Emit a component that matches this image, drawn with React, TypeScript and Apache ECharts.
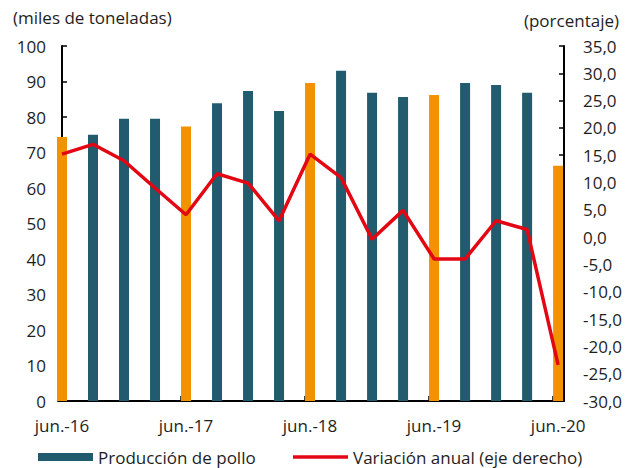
import React, { useEffect, useRef } from "react";
import * as echarts from "echarts";

const quarters = [
  "jun.-16", "sep.-16", "dic.-16", "mar.-17",
  "jun.-17", "sep.-17", "dic.-17", "mar.-18",
  "jun.-18", "sep.-18", "dic.-18", "mar.-19",
  "jun.-19", "sep.-19", "dic.-19", "mar.-20",
  "jun.-20",
];
const produccion = [74.4, 75.0, 79.5, 79.5, 77.3, 83.9, 87.3, 81.7, 89.6, 93.0, 86.8, 85.6, 86.2, 89.6, 89.0, 86.8, 66.3];
const variacion = [15.2, 17.0, 14.0, 9.0, 4.1, 11.6, 9.9, 3.0, 15.2, 10.9, -0.4, 4.9, -4.0, -4.0, 3.0, 1.4, -23.4];
const labelIdx = [0, 4, 8, 12, 16];
const tickPos = [3.84, 7.84, 11.84, 15.84];
const seriesNames = ["Producción de pollo", "Variación anual (eje derecho)"];

const FONT = "Open Sans";
const FS = 17;
const TXT = "#1e1e1e";
const TEAL = "#235B6E";
const ORANGE = "#F39200";
const RED = "#E30613";

export default function App() {
  const ref = useRef<HTMLDivElement>(null);
  useEffect(() => {
    const chart = echarts.init(ref.current!, null, { renderer: "svg" });
    const barData = produccion.map((v, i) => ({
      value: [i, v],
      itemStyle: { color: quarters[i].startsWith("jun") ? ORANGE : TEAL },
    }));
    const lineData = variacion.map((v, i) => [i, v]);
    chart.setOption({
      animation: false,
      textStyle: { fontFamily: FONT },
      grid: { left: 58, right: 62, top: 46, bottom: 67 },
      graphic: [
        { type: "text", x: 13, y: 17, style: { text: "(miles de toneladas)", font: `${FS}px "${FONT}"`, fill: TXT, textVerticalAlign: "middle" } },
        { type: "text", x: 619, y: 20, style: { text: "(porcentaje)", font: `${FS}px "${FONT}"`, fill: TXT, textAlign: "right", textVerticalAlign: "middle" } },
        { type: "rect", shape: { x: 38, y: 453, width: 55, height: 8 }, style: { fill: TEAL } },
        { type: "text", x: 98, y: 457, style: { text: seriesNames[0], font: `${FS}px "${FONT}"`, fill: TXT, textVerticalAlign: "middle" } },
        { type: "line", shape: { x1: 293, y1: 457, x2: 348, y2: 457 }, style: { stroke: RED, lineWidth: 3.5 } },
        { type: "text", x: 353, y: 457, style: { text: seriesNames[1], font: `${FS}px "${FONT}"`, fill: TXT, textVerticalAlign: "middle" } },
      ],
      xAxis: {
        type: "value",
        min: -0.129,
        max: 16.19,
        splitLine: { show: false },
        axisLine: { show: true, lineStyle: { color: "#000", width: 2 } },
        axisTick: { show: true, inside: true, length: 5, customValues: tickPos, lineStyle: { color: "#000", width: 1.5 } },
        axisLabel: {
          customValues: labelIdx,
          formatter: (v: number) => quarters[Math.round(v)],
          fontSize: FS,
          color: TXT,
          margin: 16,
          fontFamily: FONT,
        },
      },
      yAxis: [
        {
          type: "value",
          min: 0,
          max: 100,
          interval: 10,
          splitLine: { show: false },
          axisLine: { show: true, lineStyle: { color: "#000", width: 2 } },
          axisTick: { show: true, inside: true, length: 5, lineStyle: { color: "#000", width: 1.5 } },
          axisLabel: { fontSize: FS, color: TXT, margin: 12, fontFamily: FONT },
        },
        {
          type: "value",
          min: -30,
          max: 35,
          interval: 5,
          position: "right",
          splitLine: { show: false },
          axisLine: { show: true, lineStyle: { color: "#000", width: 2 } },
          axisTick: { show: true, inside: true, length: 5, lineStyle: { color: "#000", width: 1.5 } },
          axisLabel: {
            fontSize: FS,
            color: TXT,
            margin: 19,
            fontFamily: FONT,
            formatter: (v: number) => v.toFixed(1).replace(".", ","),
          },
        },
      ],
      series: [
        {
          name: seriesNames[0],
          type: "bar",
          xAxisIndex: 0,
          yAxisIndex: 0,
          barWidth: 10,
          itemStyle: { color: TEAL },
          data: barData,
        },
        {
          name: seriesNames[1],
          type: "line",
          xAxisIndex: 0,
          yAxisIndex: 1,
          showSymbol: false,
          symbol: "none",
          lineStyle: { color: RED, width: 3.5 },
          itemStyle: { color: RED },
          z: 5,
          data: lineData,
        },
      ],
    });
    return () => chart.dispose();
  }, []);
  return <div ref={ref} style={{ position: "absolute", left: 0, top: 0, width: 626, height: 468 }} />;
}
